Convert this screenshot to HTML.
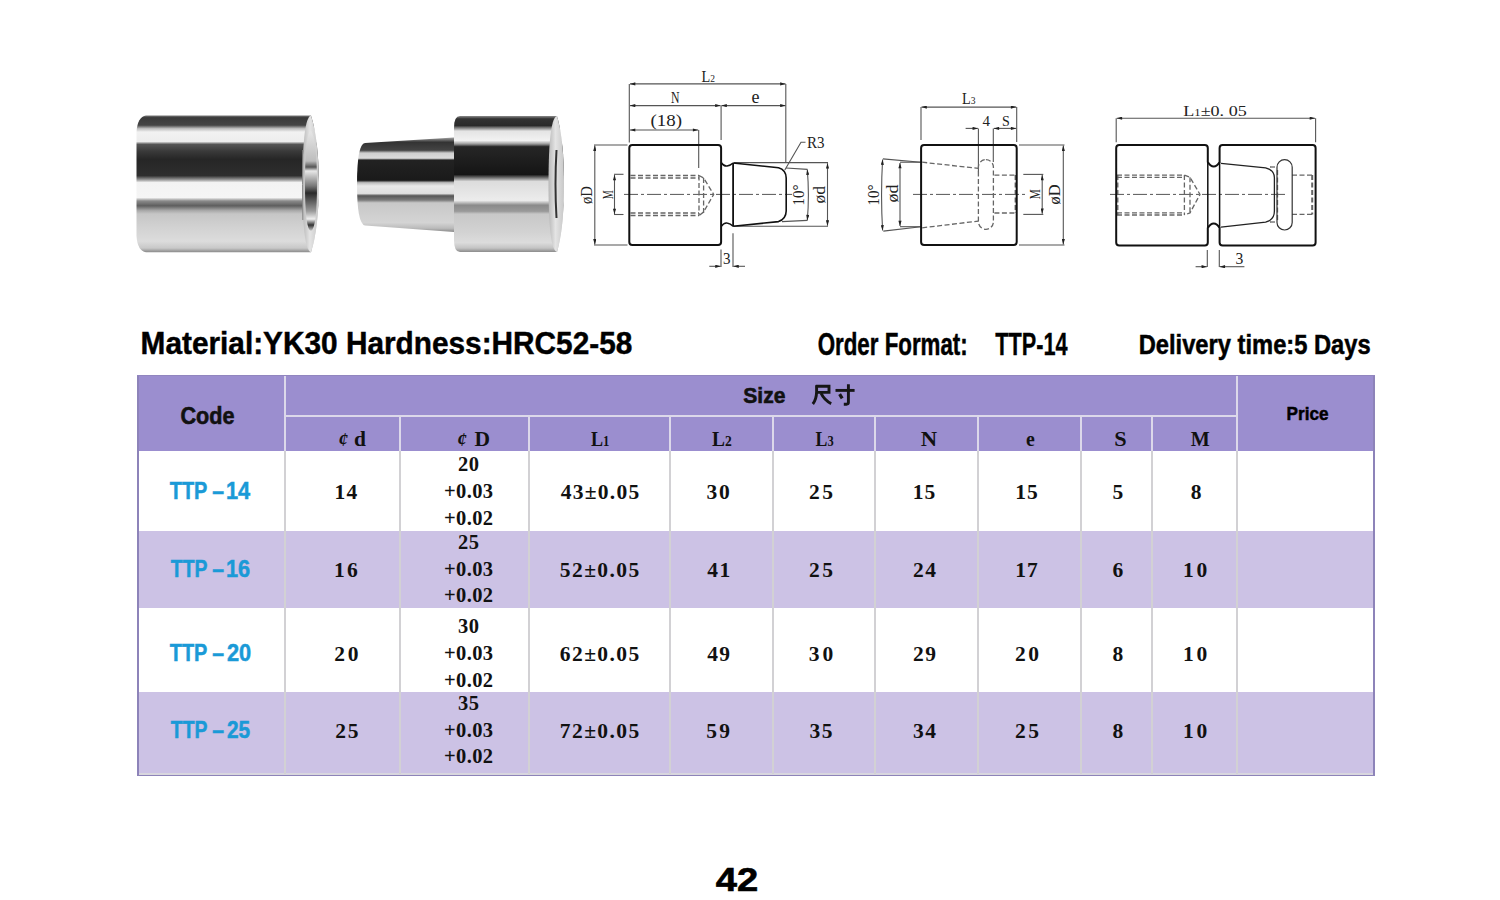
<!DOCTYPE html>
<html><head><meta charset="utf-8">
<style>
html,body{margin:0;padding:0;background:#fff;}
body{width:1500px;height:900px;position:relative;overflow:hidden;font-family:"Liberation Sans",sans-serif;}
.abs{position:absolute;}
.t{position:absolute;white-space:nowrap;line-height:1;}
.hdr{background:#9b8ecf;}
.lt{background:#ccc2e5;}
.vl{position:absolute;width:2px;background:#d9d6e0;}
.hl{position:absolute;height:2px;background:#dcd7ee;}
.sans{font-family:"Liberation Sans",sans-serif;font-weight:bold;}
.serif{font-family:"Liberation Serif",serif;font-weight:bold;}
.cell{position:absolute;display:flex;align-items:center;justify-content:center;text-align:center;}
.num{font-family:"Liberation Serif",serif;font-weight:bold;font-size:20px;letter-spacing:1.5px;color:#111;}
.code{font-family:"Liberation Sans",sans-serif;font-weight:bold;font-size:22px;color:#1b9bd7;}
</style></head><body>

<svg class="abs" style="left:0;top:0" width="600" height="300" viewBox="0 0 600 300">
<defs>
  <linearGradient id="g1" x1="0" y1="115.6" x2="0" y2="252.2" gradientUnits="userSpaceOnUse">
    <stop offset="0" stop-color="#777"/>
    <stop offset="0.015" stop-color="#3a3a3a"/>
    <stop offset="0.07" stop-color="#444"/>
    <stop offset="0.095" stop-color="#bdbdbd"/>
    <stop offset="0.12" stop-color="#f2f2f2"/>
    <stop offset="0.19" stop-color="#ededed"/>
    <stop offset="0.21" stop-color="#555"/>
    <stop offset="0.26" stop-color="#3a3a3a"/>
    <stop offset="0.32" stop-color="#262626"/>
    <stop offset="0.44" stop-color="#2e2e2e"/>
    <stop offset="0.47" stop-color="#9a9a9a"/>
    <stop offset="0.49" stop-color="#f3f3f3"/>
    <stop offset="0.60" stop-color="#f5f5f5"/>
    <stop offset="0.625" stop-color="#8a8a8a"/>
    <stop offset="0.66" stop-color="#5e5e5e"/>
    <stop offset="0.695" stop-color="#a8a8a8"/>
    <stop offset="0.72" stop-color="#c6c6c6"/>
    <stop offset="0.82" stop-color="#d2d2d2"/>
    <stop offset="0.92" stop-color="#dcdcdc"/>
    <stop offset="0.97" stop-color="#c8c8c8"/>
    <stop offset="1" stop-color="#8a8a8a"/>
  </linearGradient>
  <linearGradient id="g2" x1="0" y1="116.1" x2="0" y2="252.1" gradientUnits="userSpaceOnUse">
    <stop offset="0" stop-color="#888"/>
    <stop offset="0.02" stop-color="#333"/>
    <stop offset="0.07" stop-color="#2a2a2a"/>
    <stop offset="0.085" stop-color="#777"/>
    <stop offset="0.11" stop-color="#e4e4e4"/>
    <stop offset="0.18" stop-color="#f2f2f2"/>
    <stop offset="0.205" stop-color="#9a9a9a"/>
    <stop offset="0.225" stop-color="#262626"/>
    <stop offset="0.43" stop-color="#151515"/>
    <stop offset="0.455" stop-color="#777"/>
    <stop offset="0.48" stop-color="#dcdcdc"/>
    <stop offset="0.62" stop-color="#ececec"/>
    <stop offset="0.655" stop-color="#8a8a8a"/>
    <stop offset="0.70" stop-color="#9a9a9a"/>
    <stop offset="0.72" stop-color="#c8c8c8"/>
    <stop offset="0.85" stop-color="#d2d2d2"/>
    <stop offset="0.93" stop-color="#dcdcdc"/>
    <stop offset="0.97" stop-color="#c4c4c4"/>
    <stop offset="1" stop-color="#8a8a8a"/>
  </linearGradient>
  <linearGradient id="g3" x1="0" y1="138" x2="0" y2="232" gradientUnits="userSpaceOnUse">
    <stop offset="0" stop-color="#999"/>
    <stop offset="0.045" stop-color="#333"/>
    <stop offset="0.13" stop-color="#444"/>
    <stop offset="0.16" stop-color="#cfcfcf"/>
    <stop offset="0.215" stop-color="#dcdcdc"/>
    <stop offset="0.235" stop-color="#222"/>
    <stop offset="0.45" stop-color="#1a1a1a"/>
    <stop offset="0.475" stop-color="#bbb"/>
    <stop offset="0.51" stop-color="#e8e8e8"/>
    <stop offset="0.59" stop-color="#dedede"/>
    <stop offset="0.615" stop-color="#555"/>
    <stop offset="0.66" stop-color="#7a7a7a"/>
    <stop offset="0.69" stop-color="#c8c8c8"/>
    <stop offset="0.90" stop-color="#d4d4d4"/>
    <stop offset="0.96" stop-color="#bbb"/>
    <stop offset="1" stop-color="#888"/>
  </linearGradient>
  <linearGradient id="bore" x1="0" y1="131" x2="0" y2="231" gradientUnits="userSpaceOnUse">
    <stop offset="0" stop-color="#e6e6e6"/>
    <stop offset="0.30" stop-color="#bdbdbd"/>
    <stop offset="0.36" stop-color="#555"/>
    <stop offset="0.40" stop-color="#e8e8e8"/>
    <stop offset="0.55" stop-color="#777"/>
    <stop offset="0.62" stop-color="#2a2a2a"/>
    <stop offset="0.80" stop-color="#9a9a9a"/>
    <stop offset="0.88" stop-color="#f0f0f0"/>
    <stop offset="0.94" stop-color="#333"/>
    <stop offset="1" stop-color="#cfcfcf"/>
  </linearGradient>
  <linearGradient id="face" x1="0" y1="0" x2="1" y2="0">
    <stop offset="0" stop-color="#b8b8b8"/>
    <stop offset="0.45" stop-color="#e4e4e4"/>
    <stop offset="1" stop-color="#c8c8c8"/>
  </linearGradient>
</defs>
<!-- sleeve -->
<path d="M146,115.6 H311 Q318.8,140 318.8,184 Q318.8,228 311,252.2 H146 Q137.5,251 136.5,236 V132 Q137.5,117 146,115.6 Z" fill="url(#g1)"/>
<path d="M302.5,184 Q302.5,118 311,115.6 Q318.8,140 318.8,184 Q318.8,228 311,252.2 Q302.5,250 302.5,184 Z" fill="url(#face)"/>
<path d="M305,184 Q305,132 311,131 Q317,140 317,184 Q317,228 311,231 Q305,230 305,184 Z" fill="url(#bore)"/>
<path d="M302.8,150 Q302.3,184 302.8,220" stroke="#888" stroke-width="1" fill="none"/>
<!-- pin small cone -->
<path d="M365,143 L454,137.6 V232 L365,225.5 Q357,224 357,184 Q357,144 365,143 Z" fill="url(#g3)"/>
<!-- pin large -->
<path d="M460,116.1 H557 Q564,140 564,184 Q564,228 557,252.1 H460 Q454,252.1 454,240 V128 Q454,116.1 460,116.1 Z" fill="url(#g2)"/>
<path d="M548.5,184 Q548.5,118 557,116.1 Q564,140 564,184 Q564,228 557,252.1 Q548.5,250 548.5,184 Z" fill="url(#face)"/>
<path d="M556.5,150 Q554.5,184 556.5,218" stroke="#333" stroke-width="2" fill="none"/>
</svg>

<svg class="abs" style="left:0;top:0" width="1500" height="900" viewBox="0 0 1500 900">
<defs>
  <marker id="ar" viewBox="0 0 10 6" refX="10" refY="3" markerWidth="7" markerHeight="3.2" orient="auto-start-reverse" markerUnits="userSpaceOnUse">
    <path d="M0,0 L10,3 L0,6 z" fill="#222"/>
  </marker>
</defs>
<g fill="none" stroke-linecap="butt">
<!-- ============ Drawing 1 ============ -->
<g stroke="#555" stroke-width="1.1">
  <!-- L2 -->
  <line x1="629.3" y1="83.9" x2="629.3" y2="142.5"/>
  <line x1="630" y1="83.9" x2="785.5" y2="83.9" marker-start="url(#ar)" marker-end="url(#ar)"/>
  <line x1="785.8" y1="83.9" x2="785.8" y2="163"/>
  <!-- N / e -->
  <line x1="630" y1="105.6" x2="720.5" y2="105.6" marker-start="url(#ar)" marker-end="url(#ar)"/>
  <line x1="721.5" y1="105.6" x2="785.5" y2="105.6" marker-start="url(#ar)" marker-end="url(#ar)"/>
  <line x1="721.1" y1="105.6" x2="721.1" y2="140"/>
  <!-- (18) -->
  <line x1="630" y1="130" x2="698.2" y2="130" marker-start="url(#ar)" marker-end="url(#ar)"/>
  <line x1="698.7" y1="130" x2="698.7" y2="168"/>
  <!-- ∅D -->
  <line x1="594" y1="145" x2="627.5" y2="145"/>
  <line x1="594" y1="245" x2="627.5" y2="245"/>
  <line x1="594.8" y1="145.6" x2="594.8" y2="244.4" marker-start="url(#ar)" marker-end="url(#ar)"/>
  <!-- M -->
  <line x1="614" y1="174.3" x2="623.5" y2="174.3"/>
  <line x1="614" y1="214.5" x2="623.5" y2="214.5"/>
  <line x1="614.5" y1="175" x2="614.5" y2="214" marker-start="url(#ar)" marker-end="url(#ar)"/>
  <!-- ∅d -->
  <line x1="734" y1="162.6" x2="828" y2="162.6"/>
  <line x1="734" y1="226.3" x2="828" y2="226.3"/>
  <line x1="827.5" y1="163.2" x2="827.5" y2="225.7" marker-start="url(#ar)" marker-end="url(#ar)"/>
  <!-- 10° -->
  <line x1="786" y1="168" x2="807.5" y2="169.4"/>
  <line x1="782" y1="221.6" x2="807.5" y2="220.4"/>
  <path d="M807.3,169.6 Q809.5,195 807.3,220.3" marker-start="url(#ar)" marker-end="url(#ar)"/>
  <!-- R3 leader -->
  <polyline points="784.8,170 801,142.3 805.5,142.3"/>
  <!-- 3 -->
  <line x1="721" y1="249.5" x2="721" y2="267"/>
  <line x1="733" y1="233.3" x2="733" y2="267"/>
  <line x1="709.3" y1="266.3" x2="720.6" y2="266.3" marker-end="url(#ar)"/>
  <line x1="745" y1="266.3" x2="733.4" y2="266.3" marker-end="url(#ar)"/>
</g>
<!-- center line 1 -->
<line x1="624" y1="194.4" x2="792" y2="194.4" stroke="#555" stroke-width="1" stroke-dasharray="14,3,3,3"/>
<!-- thread dashed -->
<g stroke="#666" stroke-width="1.3" stroke-dasharray="5,2.5">
  <line x1="630.5" y1="175.5" x2="699" y2="175.5"/>
  <line x1="630.5" y1="178" x2="699" y2="178"/>
  <line x1="630.5" y1="213" x2="699" y2="213"/>
  <line x1="630.5" y1="215.5" x2="699" y2="215.5"/>
  <line x1="699" y1="175.5" x2="699" y2="215.5"/>
  <line x1="703.6" y1="178" x2="703.6" y2="213"/>
  <polyline points="699,175.5 703.6,178 713.7,194.4 703.6,212 699,215.5"/>
</g>
<!-- body outline 1 -->
<g stroke="#111" stroke-width="2">
  <path d="M632.3,145 H718.1 Q721.1,145 721.1,148 V242 Q721.1,245 718.1,245 H632.3 Q629.3,245 629.3,242 V148 Q629.3,145 632.3,145 Z"/>
  <path d="M721.1,162.5 Q724,166.5 727,166 Q730.5,165.5 733.1,163 M721.1,226.5 Q724,222.5 727,223 Q730.5,223.5 733.1,226.3" stroke-width="1.6"/>
  <path d="M733.1,163 V226.3" stroke-width="1.8"/>
  <path d="M733.1,163 L778.5,167.8 Q786,170 786.2,178 V211 Q786,219 778.5,221.6 L733.1,226.3" stroke-width="1.6"/>
</g>

<!-- ============ Drawing 2 ============ -->
<g stroke="#555" stroke-width="1.1">
  <line x1="921" y1="107.1" x2="921" y2="140"/>
  <line x1="1016.7" y1="107.1" x2="1016.7" y2="142"/>
  <line x1="921.5" y1="107.1" x2="1016.2" y2="107.1" marker-start="url(#ar)" marker-end="url(#ar)"/>
  <!-- 4 S -->
  <line x1="965.6" y1="128.4" x2="977.9" y2="128.4" marker-end="url(#ar)"/>
  <line x1="993.8" y1="128.4" x2="1016.2" y2="128.4" marker-start="url(#ar)" marker-end="url(#ar)"/>
  <line x1="978.4" y1="128.4" x2="978.4" y2="172"/>
  <line x1="993.3" y1="128.4" x2="993.3" y2="162"/>
  <!-- ∅D right -->
  <line x1="1019" y1="145" x2="1064.5" y2="145"/>
  <line x1="1019" y1="245" x2="1064.5" y2="245"/>
  <line x1="1063.3" y1="145.6" x2="1063.3" y2="244.4" marker-start="url(#ar)" marker-end="url(#ar)"/>
  <!-- M -->
  <line x1="1023.3" y1="174.4" x2="1043.3" y2="174.4"/>
  <line x1="1023.3" y1="214.4" x2="1043.3" y2="214.4"/>
  <line x1="1042.2" y1="175" x2="1042.2" y2="213.8" marker-start="url(#ar)" marker-end="url(#ar)"/>
  <!-- ∅d left -->
  <line x1="900" y1="162.2" x2="921" y2="162.2"/>
  <line x1="900" y1="226.7" x2="921" y2="226.7"/>
  <line x1="900" y1="163" x2="900" y2="226" marker-start="url(#ar)" marker-end="url(#ar)"/>
  <!-- 10° -->
  <line x1="921" y1="162.2" x2="882.9" y2="158.9"/>
  <line x1="921" y1="226.7" x2="883.3" y2="231.1"/>
  <path d="M882.6,159.5 Q880.5,195 882.6,230.5" marker-start="url(#ar)" marker-end="url(#ar)"/>
</g>
<line x1="913" y1="194.4" x2="1026" y2="194.4" stroke="#555" stroke-width="1" stroke-dasharray="14,3,3,3"/>
<g stroke="#666" stroke-width="1.3" stroke-dasharray="5,2.5">
  <line x1="922.2" y1="162.2" x2="978.4" y2="168.4"/>
  <line x1="922.2" y1="227.8" x2="978.4" y2="221.1"/>
  <rect x="978.4" y="159.6" width="15" height="69.7" rx="7.5" ry="7.5"/>
  <line x1="994.4" y1="175.1" x2="1016.7" y2="175.1"/>
  <line x1="994.4" y1="213" x2="1016.7" y2="213"/>
  <line x1="1015.6" y1="175" x2="1015.6" y2="213" stroke-width="2"/>
</g>
<g stroke="#111" stroke-width="2">
  <rect x="921.1" y="144.9" width="95.6" height="100.2" rx="3" ry="3"/>
</g>

<!-- ============ Drawing 3 ============ -->
<g stroke="#555" stroke-width="1.1">
  <line x1="1116.2" y1="118.2" x2="1116.2" y2="142.2"/>
  <line x1="1315.6" y1="118.2" x2="1315.6" y2="142.2"/>
  <line x1="1116.8" y1="118.2" x2="1315" y2="118.2" marker-start="url(#ar)" marker-end="url(#ar)"/>
  <!-- 3 -->
  <line x1="1207.3" y1="250" x2="1207.3" y2="267"/>
  <line x1="1219.3" y1="250" x2="1219.3" y2="267"/>
  <line x1="1195.6" y1="266.7" x2="1206.9" y2="266.7" marker-end="url(#ar)"/>
  <line x1="1244.4" y1="266.7" x2="1219.7" y2="266.7" marker-end="url(#ar)"/>
</g>
<line x1="1110" y1="194.4" x2="1287" y2="194.4" stroke="#555" stroke-width="1" stroke-dasharray="14,3,3,3"/>
<g stroke="#666" stroke-width="1.3" stroke-dasharray="5,2.5">
  <line x1="1117" y1="175.1" x2="1184.4" y2="175.1"/>
  <line x1="1117" y1="177.3" x2="1184.4" y2="177.3"/>
  <line x1="1117" y1="212.9" x2="1184.4" y2="212.9"/>
  <line x1="1117" y1="215" x2="1184.4" y2="215"/>
  <line x1="1117.8" y1="175" x2="1117.8" y2="215"/>
  <line x1="1184.4" y1="175.1" x2="1184.4" y2="215"/>
  <line x1="1190" y1="177.3" x2="1190" y2="212.9"/>
  <polyline points="1184.4,175.1 1190,177.3 1200,194.4 1190,212.9 1184.4,215"/>
  <line x1="1292" y1="175.1" x2="1313.3" y2="175.1"/>
  <line x1="1292" y1="214.4" x2="1313.3" y2="214.4"/>
  <line x1="1312.2" y1="175.1" x2="1312.2" y2="214.4" stroke-width="2"/>
  <line x1="1277.5" y1="170" x2="1277.5" y2="220"/>
  <line x1="1270" y1="167" x2="1277" y2="167"/>
  <line x1="1270" y1="222" x2="1277" y2="222"/>
</g>
<g stroke="#111" stroke-width="2">
  <path d="M1119.2,144.9 H1204.8 Q1207.8,144.9 1207.8,147.9 V162 Q1210.5,166.5 1213.7,166.5 Q1217,166.5 1219.6,162 V147.9 Q1219.6,144.9 1222.6,144.9 H1312.6 Q1315.6,144.9 1315.6,147.9 V242.6 Q1315.6,245.6 1312.6,245.6 H1222.6 Q1219.6,245.6 1219.6,242.6 V228 Q1217,223.5 1213.7,223.5 Q1210.5,223.5 1207.8,228 V242.6 Q1207.8,245.6 1204.8,245.6 H1119.2 Q1116.2,245.6 1116.2,242.6 V147.9 Q1116.2,144.9 1119.2,144.9 Z"/>
  <path d="M1207.8,162 V228 M1219.6,162 V228" stroke-width="1.5"/>
</g>
<g stroke="#222" stroke-width="1.3">
  <path d="M1221,163.3 L1265.6,167.8 Q1274.4,170 1274.4,177.8 V211.1 Q1274.4,220 1265.6,222.2 L1221,227.1"/>
  <rect x="1277" y="159.6" width="15.2" height="70.4" rx="7.6" ry="7.6" stroke-width="1.2" stroke="#333"/>
</g>
</g>
<!-- labels -->
<g font-family="Liberation Serif" fill="#222">
  <text x="701.5" y="81.7" font-size="16.5" textLength="13.5" lengthAdjust="spacingAndGlyphs">L<tspan font-size="11">2</tspan></text>
  <text x="671" y="103.1" font-size="16.5" textLength="8.5" lengthAdjust="spacingAndGlyphs">N</text>
  <text x="751.5" y="102.8" font-size="19" textLength="8" lengthAdjust="spacingAndGlyphs">e</text>
  <text x="650.5" y="125.6" font-size="17" textLength="31.5" lengthAdjust="spacingAndGlyphs">(18)</text>
  <text x="807" y="148.3" font-size="17" textLength="17.5" lengthAdjust="spacingAndGlyphs">R3</text>
  <text x="723" y="263.6" font-size="17" textLength="7.5" lengthAdjust="spacingAndGlyphs">3</text>
  <text transform="translate(591.7,204) rotate(-90)" x="0" y="0" font-size="17" textLength="18" lengthAdjust="spacingAndGlyphs">øD</text>
  <text transform="translate(612.7,199.2) rotate(-90)" x="0" y="0" font-size="14" textLength="9" lengthAdjust="spacingAndGlyphs">M</text>
  <text transform="translate(825.3,203.5) rotate(-90)" x="0" y="0" font-size="17" textLength="17.5" lengthAdjust="spacingAndGlyphs">ød</text>
  <text transform="translate(804,205.5) rotate(-90)" x="0" y="0" font-size="17" textLength="21" lengthAdjust="spacingAndGlyphs">10°</text>

  <text x="962" y="104" font-size="16.5" textLength="13.5" lengthAdjust="spacingAndGlyphs">L<tspan font-size="11">3</tspan></text>
  <text x="982.5" y="125.6" font-size="15" textLength="7.5" lengthAdjust="spacingAndGlyphs">4</text>
  <text x="1002" y="125.6" font-size="15" textLength="7.8" lengthAdjust="spacingAndGlyphs">S</text>
  <text transform="translate(897.8,202.5) rotate(-90)" x="0" y="0" font-size="16" textLength="18" lengthAdjust="spacingAndGlyphs">ød</text>
  <text transform="translate(878.9,205.6) rotate(-90)" x="0" y="0" font-size="17" textLength="21" lengthAdjust="spacingAndGlyphs">10°</text>
  <text transform="translate(1060,204.4) rotate(-90)" x="0" y="0" font-size="16" textLength="20" lengthAdjust="spacingAndGlyphs">øD</text>
  <text transform="translate(1040,199.3) rotate(-90)" x="0" y="0" font-size="14" textLength="10" lengthAdjust="spacingAndGlyphs">M</text>

  <text x="1183.3" y="115.6" font-size="15" textLength="63.4" lengthAdjust="spacingAndGlyphs">L<tspan font-size="10.5">1</tspan>±0. 05</text>
  <text x="1235.5" y="264.4" font-size="16" textLength="7.8" lengthAdjust="spacingAndGlyphs">3</text>
</g>
</svg>

<!-- table -->
<div class="abs hdr" style="left:138px;top:375px;width:1237px;height:76px;"></div>
<div class="abs" style="left:138px;top:451px;width:1237px;height:80px;background:#fff;"></div>
<div class="abs lt" style="left:138px;top:531px;width:1237px;height:77px;"></div>
<div class="abs" style="left:138px;top:608px;width:1237px;height:84px;background:#fff;"></div>
<div class="abs lt" style="left:138px;top:692px;width:1237px;height:83px;"></div>
<!-- outer border -->
<div class="abs" style="left:137px;top:375px;width:2px;height:401px;background:#8d83b9;"></div>
<div class="abs" style="left:1373px;top:375px;width:2px;height:401px;background:#8d83b9;"></div>
<div class="abs" style="left:139px;top:773px;width:1234px;height:1.5px;background:#d8d6de;"></div>
<div class="abs" style="left:137px;top:774.5px;width:1238px;height:1.8px;background:#8d83b9;"></div>
<div class="abs" style="left:137px;top:375px;width:1238px;height:1px;background:#9186bf;"></div>

<!-- vertical lines -->
<div class="vl" style="left:283.5px;top:376px;height:75px;background:#dcd8ea;"></div>
<div class="vl" style="left:283.5px;top:451px;height:323px;background:#d2d1d4;"></div>
<div class="vl" style="left:399.3px;top:417px;height:34px;background:#dcd8ea;"></div>
<div class="vl" style="left:399.3px;top:451px;height:323px;background:#d2d1d4;"></div>
<div class="vl" style="left:527.9px;top:417px;height:34px;background:#dcd8ea;"></div>
<div class="vl" style="left:527.9px;top:451px;height:323px;background:#d2d1d4;"></div>
<div class="vl" style="left:669px;top:417px;height:34px;background:#dcd8ea;"></div>
<div class="vl" style="left:669px;top:451px;height:323px;background:#d2d1d4;"></div>
<div class="vl" style="left:771.5px;top:417px;height:34px;background:#dcd8ea;"></div>
<div class="vl" style="left:771.5px;top:451px;height:323px;background:#d2d1d4;"></div>
<div class="vl" style="left:874.4px;top:417px;height:34px;background:#dcd8ea;"></div>
<div class="vl" style="left:874.4px;top:451px;height:323px;background:#d2d1d4;"></div>
<div class="vl" style="left:977.4px;top:417px;height:34px;background:#dcd8ea;"></div>
<div class="vl" style="left:977.4px;top:451px;height:323px;background:#d2d1d4;"></div>
<div class="vl" style="left:1080.4px;top:417px;height:34px;background:#dcd8ea;"></div>
<div class="vl" style="left:1080.4px;top:451px;height:323px;background:#d2d1d4;"></div>
<div class="vl" style="left:1150.8px;top:417px;height:34px;background:#dcd8ea;"></div>
<div class="vl" style="left:1150.8px;top:451px;height:323px;background:#d2d1d4;"></div>
<div class="vl" style="left:1235.5px;top:376px;height:75px;background:#dcd8ea;"></div>
<div class="vl" style="left:1235.5px;top:451px;height:323px;background:#d2d1d4;"></div>
<div class="hl" style="left:284px;top:415px;width:952px;background:#dcd8ea;"></div>

<!--CN-->
<svg class="abs" style="left:0;top:0" width="1500" height="900" viewBox="0 0 1500 900"><g fill="none" stroke="#161616" stroke-width="2.9" stroke-linecap="butt" stroke-linejoin="miter">
<path d="M815.8,386.3 H829 V392.4 H816.6"/>
<path d="M816.6,385.2 V392 Q816.4,399.5 812.8,404"/>
<path d="M821,393.2 Q824.5,400.5 831.2,403.6"/>
<path d="M835.5,390.4 H854.6"/>
<path d="M848.4,384.3 V402.6 Q848.4,404.2 846.5,404.2 H843.8"/>
<path d="M839.6,394.2 L842.2,398.4" stroke-width="3.2"/>
</g></svg>
<!--/CN-->
<svg class="abs" style="left:0;top:0" width="1500" height="900" viewBox="0 0 1500 900">
<text x="140.60" y="354.20" font-family="Liberation Sans" font-weight="bold" font-size="31" fill="#000" stroke="#000" stroke-width="0.45" textLength="491.70" lengthAdjust="spacingAndGlyphs">Material:YK30 Hardness:HRC52-58</text>
<text x="817.70" y="355.00" font-family="Liberation Sans" font-weight="bold" font-size="32" fill="#000" stroke="#000" stroke-width="0.5" textLength="150.00" lengthAdjust="spacingAndGlyphs">Order Format:</text>
<text x="995.30" y="355.00" font-family="Liberation Sans" font-weight="bold" font-size="32" fill="#000" stroke="#000" stroke-width="0.3" textLength="72.40" lengthAdjust="spacingAndGlyphs">TTP-14</text>
<text x="1138.70" y="353.60" font-family="Liberation Sans" font-weight="bold" font-size="28.5" fill="#000" stroke="#000" stroke-width="0.5" textLength="232.00" lengthAdjust="spacingAndGlyphs">Delivery time:5 Days</text>
<text x="715.70" y="890.60" font-family="Liberation Sans" font-weight="bold" font-size="33" fill="#000" stroke="#000" stroke-width="0.6" textLength="42.50" lengthAdjust="spacingAndGlyphs">42</text>
<text x="180.40" y="423.70" font-family="Liberation Sans" font-weight="bold" font-size="23.5" fill="#111" stroke="#111" stroke-width="0.6" textLength="54.00" lengthAdjust="spacingAndGlyphs">Code</text>
<text x="743.30" y="403.00" font-family="Liberation Sans" font-weight="bold" font-size="22" fill="#111" stroke="#111" stroke-width="0.6" textLength="42.10" lengthAdjust="spacingAndGlyphs">Size</text>
<text x="1286.60" y="419.70" font-family="Liberation Sans" font-weight="bold" font-size="19" fill="#000" stroke="#000" stroke-width="0.5" textLength="41.90" lengthAdjust="spacingAndGlyphs">Price</text>
<text x="338.30" y="446.00" font-family="Liberation Serif" font-weight="bold" font-size="21.5" fill="#111" stroke="#111" stroke-width="0" textLength="27.70" lengthAdjust="spacing"><tspan font-style="italic" font-size="19.4">¢</tspan> d</text>
<text x="456.90" y="446.00" font-family="Liberation Serif" font-weight="bold" font-size="21.5" fill="#111" stroke="#111" stroke-width="0" textLength="33.10" lengthAdjust="spacing"><tspan font-style="italic" font-size="19.4">¢</tspan> D</text>
<text x="591.00" y="445.70" font-family="Liberation Serif" font-weight="bold" font-size="21.5" fill="#111" stroke="#111" stroke-width="0" textLength="18.40" lengthAdjust="spacingAndGlyphs">L<tspan font-size="15.0">1</tspan></text>
<text x="712.00" y="445.70" font-family="Liberation Serif" font-weight="bold" font-size="21.5" fill="#111" stroke="#111" stroke-width="0" textLength="19.70" lengthAdjust="spacingAndGlyphs">L<tspan font-size="15.0">2</tspan></text>
<text x="815.60" y="445.70" font-family="Liberation Serif" font-weight="bold" font-size="21.5" fill="#111" stroke="#111" stroke-width="0" textLength="18.10" lengthAdjust="spacingAndGlyphs">L<tspan font-size="15.0">3</tspan></text>
<text x="920.70" y="445.70" font-family="Liberation Serif" font-weight="bold" font-size="21.5" fill="#111" stroke="#111" stroke-width="0" textLength="16.40" lengthAdjust="spacingAndGlyphs">N</text>
<text x="1026.10" y="445.70" font-family="Liberation Serif" font-weight="bold" font-size="21.5" fill="#111" stroke="#111" stroke-width="0" textLength="8.80" lengthAdjust="spacingAndGlyphs">e</text>
<text x="1114.30" y="445.70" font-family="Liberation Serif" font-weight="bold" font-size="21.5" fill="#111" stroke="#111" stroke-width="0" textLength="12.40" lengthAdjust="spacingAndGlyphs">S</text>
<text x="1190.70" y="445.70" font-family="Liberation Serif" font-weight="bold" font-size="21.5" fill="#111" stroke="#111" stroke-width="0" textLength="19.00" lengthAdjust="spacingAndGlyphs">M</text>
<text x="169.80" y="499.20" font-family="Liberation Sans" font-weight="bold" font-size="23.5" fill="#1a9ad7" stroke="#1a9ad7" stroke-width="0.5" textLength="37.60" lengthAdjust="spacingAndGlyphs">TTP</text>
<text x="212.30" y="499.20" font-family="Liberation Sans" font-weight="bold" font-size="23.5" fill="#1a9ad7" stroke="#1a9ad7" stroke-width="0.5" textLength="11.80" lengthAdjust="spacingAndGlyphs">–</text>
<text x="226.00" y="499.20" font-family="Liberation Sans" font-weight="bold" font-size="23.5" fill="#1a9ad7" stroke="#1a9ad7" stroke-width="0.5" textLength="24.20" lengthAdjust="spacingAndGlyphs">14</text>
<text x="334.55" y="499.20" font-family="Liberation Serif" font-weight="bold" font-size="21.5" fill="#111" stroke="#111" stroke-width="0" textLength="22.70" lengthAdjust="spacing">14</text>
<text x="560.85" y="499.20" font-family="Liberation Serif" font-weight="bold" font-size="21.5" fill="#111" stroke="#111" stroke-width="0" textLength="78.30" lengthAdjust="spacing">43±0.05</text>
<text x="706.55" y="499.20" font-family="Liberation Serif" font-weight="bold" font-size="21.5" fill="#111" stroke="#111" stroke-width="0" textLength="23.30" lengthAdjust="spacing">30</text>
<text x="808.90" y="499.20" font-family="Liberation Serif" font-weight="bold" font-size="21.5" fill="#111" stroke="#111" stroke-width="0" textLength="24.20" lengthAdjust="spacing">25</text>
<text x="912.65" y="499.20" font-family="Liberation Serif" font-weight="bold" font-size="21.5" fill="#111" stroke="#111" stroke-width="0" textLength="22.70" lengthAdjust="spacing">15</text>
<text x="1015.15" y="499.20" font-family="Liberation Serif" font-weight="bold" font-size="21.5" fill="#111" stroke="#111" stroke-width="0" textLength="22.70" lengthAdjust="spacing">15</text>
<text x="1112.40" y="499.20" font-family="Liberation Serif" font-weight="bold" font-size="21.5" fill="#111" stroke="#111" stroke-width="0" textLength="-2.80" lengthAdjust="spacing">5</text>
<text x="1190.65" y="499.20" font-family="Liberation Serif" font-weight="bold" font-size="21.5" fill="#111" stroke="#111" stroke-width="0" textLength="-8.10" lengthAdjust="spacing">8</text>
<text x="457.95" y="471.35" font-family="Liberation Serif" font-weight="bold" font-size="20.5" fill="#111" stroke="#111" stroke-width="0" textLength="21.10" lengthAdjust="spacing">20</text>
<text x="443.95" y="498.10" font-family="Liberation Serif" font-weight="bold" font-size="20.5" fill="#111" stroke="#111" stroke-width="0" textLength="49.10" lengthAdjust="spacing">+0.03</text>
<text x="443.95" y="524.85" font-family="Liberation Serif" font-weight="bold" font-size="20.5" fill="#111" stroke="#111" stroke-width="0" textLength="49.10" lengthAdjust="spacing">+0.02</text>
<text x="170.80" y="577.00" font-family="Liberation Sans" font-weight="bold" font-size="23.5" fill="#1a9ad7" stroke="#1a9ad7" stroke-width="0.5" textLength="36.60" lengthAdjust="spacingAndGlyphs">TTP</text>
<text x="212.30" y="577.00" font-family="Liberation Sans" font-weight="bold" font-size="23.5" fill="#1a9ad7" stroke="#1a9ad7" stroke-width="0.5" textLength="11.80" lengthAdjust="spacingAndGlyphs">–</text>
<text x="226.00" y="577.00" font-family="Liberation Sans" font-weight="bold" font-size="23.5" fill="#1a9ad7" stroke="#1a9ad7" stroke-width="0.5" textLength="24.20" lengthAdjust="spacingAndGlyphs">16</text>
<text x="333.95" y="577.00" font-family="Liberation Serif" font-weight="bold" font-size="21.5" fill="#111" stroke="#111" stroke-width="0" textLength="23.90" lengthAdjust="spacing">16</text>
<text x="559.85" y="577.00" font-family="Liberation Serif" font-weight="bold" font-size="21.5" fill="#111" stroke="#111" stroke-width="0" textLength="79.30" lengthAdjust="spacing">52±0.05</text>
<text x="707.25" y="577.00" font-family="Liberation Serif" font-weight="bold" font-size="21.5" fill="#111" stroke="#111" stroke-width="0" textLength="22.90" lengthAdjust="spacing">41</text>
<text x="808.90" y="577.00" font-family="Liberation Serif" font-weight="bold" font-size="21.5" fill="#111" stroke="#111" stroke-width="0" textLength="24.20" lengthAdjust="spacing">25</text>
<text x="913.00" y="577.00" font-family="Liberation Serif" font-weight="bold" font-size="21.5" fill="#111" stroke="#111" stroke-width="0" textLength="23.00" lengthAdjust="spacing">24</text>
<text x="1015.30" y="577.00" font-family="Liberation Serif" font-weight="bold" font-size="21.5" fill="#111" stroke="#111" stroke-width="0" textLength="22.40" lengthAdjust="spacing">17</text>
<text x="1112.55" y="577.00" font-family="Liberation Serif" font-weight="bold" font-size="21.5" fill="#111" stroke="#111" stroke-width="0" textLength="-8.10" lengthAdjust="spacing">6</text>
<text x="1183.05" y="577.00" font-family="Liberation Serif" font-weight="bold" font-size="21.5" fill="#111" stroke="#111" stroke-width="0" textLength="24.10" lengthAdjust="spacing">10</text>
<text x="457.95" y="548.95" font-family="Liberation Serif" font-weight="bold" font-size="20.5" fill="#111" stroke="#111" stroke-width="0" textLength="21.10" lengthAdjust="spacing">25</text>
<text x="443.95" y="575.70" font-family="Liberation Serif" font-weight="bold" font-size="20.5" fill="#111" stroke="#111" stroke-width="0" textLength="49.10" lengthAdjust="spacing">+0.03</text>
<text x="443.95" y="602.45" font-family="Liberation Serif" font-weight="bold" font-size="20.5" fill="#111" stroke="#111" stroke-width="0" textLength="49.10" lengthAdjust="spacing">+0.02</text>
<text x="169.80" y="660.60" font-family="Liberation Sans" font-weight="bold" font-size="23.5" fill="#1a9ad7" stroke="#1a9ad7" stroke-width="0.5" textLength="37.60" lengthAdjust="spacingAndGlyphs">TTP</text>
<text x="212.30" y="660.60" font-family="Liberation Sans" font-weight="bold" font-size="23.5" fill="#1a9ad7" stroke="#1a9ad7" stroke-width="0.5" textLength="11.80" lengthAdjust="spacingAndGlyphs">–</text>
<text x="227.00" y="660.60" font-family="Liberation Sans" font-weight="bold" font-size="23.5" fill="#1a9ad7" stroke="#1a9ad7" stroke-width="0.5" textLength="24.20" lengthAdjust="spacingAndGlyphs">20</text>
<text x="334.30" y="660.60" font-family="Liberation Serif" font-weight="bold" font-size="21.5" fill="#111" stroke="#111" stroke-width="0" textLength="24.20" lengthAdjust="spacing">20</text>
<text x="559.85" y="660.60" font-family="Liberation Serif" font-weight="bold" font-size="21.5" fill="#111" stroke="#111" stroke-width="0" textLength="79.30" lengthAdjust="spacing">62±0.05</text>
<text x="707.35" y="660.60" font-family="Liberation Serif" font-weight="bold" font-size="21.5" fill="#111" stroke="#111" stroke-width="0" textLength="22.70" lengthAdjust="spacing">49</text>
<text x="808.85" y="660.60" font-family="Liberation Serif" font-weight="bold" font-size="21.5" fill="#111" stroke="#111" stroke-width="0" textLength="24.30" lengthAdjust="spacing">30</text>
<text x="913.00" y="660.60" font-family="Liberation Serif" font-weight="bold" font-size="21.5" fill="#111" stroke="#111" stroke-width="0" textLength="23.00" lengthAdjust="spacing">29</text>
<text x="1014.90" y="660.60" font-family="Liberation Serif" font-weight="bold" font-size="21.5" fill="#111" stroke="#111" stroke-width="0" textLength="24.20" lengthAdjust="spacing">20</text>
<text x="1112.55" y="660.60" font-family="Liberation Serif" font-weight="bold" font-size="21.5" fill="#111" stroke="#111" stroke-width="0" textLength="-8.10" lengthAdjust="spacing">8</text>
<text x="1183.05" y="660.60" font-family="Liberation Serif" font-weight="bold" font-size="21.5" fill="#111" stroke="#111" stroke-width="0" textLength="24.10" lengthAdjust="spacing">10</text>
<text x="457.95" y="633.05" font-family="Liberation Serif" font-weight="bold" font-size="20.5" fill="#111" stroke="#111" stroke-width="0" textLength="21.10" lengthAdjust="spacing">30</text>
<text x="443.95" y="659.80" font-family="Liberation Serif" font-weight="bold" font-size="20.5" fill="#111" stroke="#111" stroke-width="0" textLength="49.10" lengthAdjust="spacing">+0.03</text>
<text x="443.95" y="686.55" font-family="Liberation Serif" font-weight="bold" font-size="20.5" fill="#111" stroke="#111" stroke-width="0" textLength="49.10" lengthAdjust="spacing">+0.02</text>
<text x="170.80" y="738.00" font-family="Liberation Sans" font-weight="bold" font-size="23.5" fill="#1a9ad7" stroke="#1a9ad7" stroke-width="0.5" textLength="36.60" lengthAdjust="spacingAndGlyphs">TTP</text>
<text x="212.30" y="738.00" font-family="Liberation Sans" font-weight="bold" font-size="23.5" fill="#1a9ad7" stroke="#1a9ad7" stroke-width="0.5" textLength="11.80" lengthAdjust="spacingAndGlyphs">–</text>
<text x="227.00" y="738.00" font-family="Liberation Sans" font-weight="bold" font-size="23.5" fill="#1a9ad7" stroke="#1a9ad7" stroke-width="0.5" textLength="23.20" lengthAdjust="spacingAndGlyphs">25</text>
<text x="335.30" y="738.00" font-family="Liberation Serif" font-weight="bold" font-size="21.5" fill="#111" stroke="#111" stroke-width="0" textLength="23.20" lengthAdjust="spacing">25</text>
<text x="559.85" y="738.00" font-family="Liberation Serif" font-weight="bold" font-size="21.5" fill="#111" stroke="#111" stroke-width="0" textLength="79.30" lengthAdjust="spacing">72±0.05</text>
<text x="706.35" y="738.00" font-family="Liberation Serif" font-weight="bold" font-size="21.5" fill="#111" stroke="#111" stroke-width="0" textLength="23.70" lengthAdjust="spacing">59</text>
<text x="809.50" y="738.00" font-family="Liberation Serif" font-weight="bold" font-size="21.5" fill="#111" stroke="#111" stroke-width="0" textLength="23.00" lengthAdjust="spacing">35</text>
<text x="913.00" y="738.00" font-family="Liberation Serif" font-weight="bold" font-size="21.5" fill="#111" stroke="#111" stroke-width="0" textLength="23.00" lengthAdjust="spacing">34</text>
<text x="1014.90" y="738.00" font-family="Liberation Serif" font-weight="bold" font-size="21.5" fill="#111" stroke="#111" stroke-width="0" textLength="24.20" lengthAdjust="spacing">25</text>
<text x="1112.55" y="738.00" font-family="Liberation Serif" font-weight="bold" font-size="21.5" fill="#111" stroke="#111" stroke-width="0" textLength="-8.10" lengthAdjust="spacing">8</text>
<text x="1183.05" y="738.00" font-family="Liberation Serif" font-weight="bold" font-size="21.5" fill="#111" stroke="#111" stroke-width="0" textLength="24.10" lengthAdjust="spacing">10</text>
<text x="457.95" y="709.75" font-family="Liberation Serif" font-weight="bold" font-size="20.5" fill="#111" stroke="#111" stroke-width="0" textLength="21.10" lengthAdjust="spacing">35</text>
<text x="443.95" y="736.50" font-family="Liberation Serif" font-weight="bold" font-size="20.5" fill="#111" stroke="#111" stroke-width="0" textLength="49.10" lengthAdjust="spacing">+0.03</text>
<text x="443.95" y="763.25" font-family="Liberation Serif" font-weight="bold" font-size="20.5" fill="#111" stroke="#111" stroke-width="0" textLength="49.10" lengthAdjust="spacing">+0.02</text>
</svg>
</body></html>
